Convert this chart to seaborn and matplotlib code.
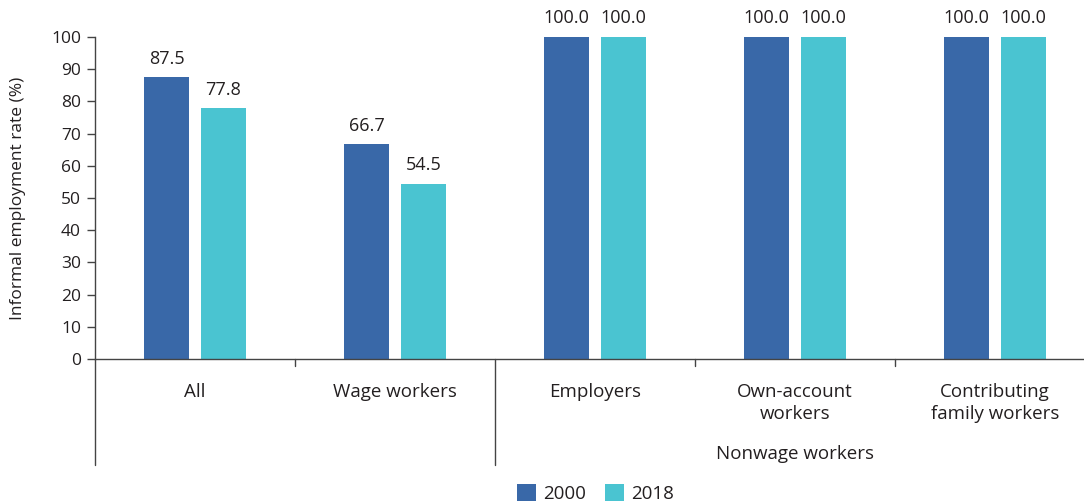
import matplotlib
matplotlib.use('Agg')
import pandas as pd
import matplotlib.pyplot as plt
import seaborn as sns

categories = ["All", "Wage workers", "Employers", "Own-account\nworkers", "Contributing\nfamily workers"]
years = ["2000", "2018"]
rate_2000 = [87.5, 66.7, 100.0, 100.0, 100.0]
rate_2018 = [77.8, 54.5, 100.0, 100.0, 100.0]
group_label = "Nonwage workers"
colors = ["#3968a8", "#4ac4d1"]

df = pd.DataFrame({
    "category": categories * 2,
    "year": [years[0]] * 5 + [years[1]] * 5,
    "rate": rate_2000 + rate_2018,
})

sns.set_style("white")
plt.rcParams['font.family'] = ['Open Sans', 'DejaVu Sans']
txt = "#231f20"

fig = plt.figure(figsize=(10.84, 5.01), dpi=100)
ax = fig.add_axes([95 / 1084, 142 / 501, 989 / 1084, 322 / 501])
sns.barplot(data=df, x="category", y="rate", hue="year", palette=colors,
            width=0.57, gap=0.21, saturation=1, linewidth=0, edgecolor="none",
            ax=ax, legend=True)

for cont in ax.containers:
    ax.bar_label(cont, fmt="%.1f", padding=7, fontsize=13, color=txt)

ax.set_ylim(0, 100)
ax.set_xlim(-0.5, 4.445)
ax.set_yticks(range(0, 101, 10))
ax.set_ylabel("Informal employment rate (%)", fontsize=12.5, color=txt, labelpad=18)
ax.set_xlabel("")
ax.tick_params(axis="y", length=6, width=1, color="#444", labelsize=12.5, labelcolor=txt, pad=4, left=True)
ax.tick_params(axis="x", length=0, labelsize=13.5, labelcolor=txt, pad=17)
for t in ax.get_xticklabels():
    t.set_linespacing(1.3)
sns.despine(ax=ax)
for s in ["left", "bottom"]:
    ax.spines[s].set_color("#444")
    ax.spines[s].set_linewidth(1)

# group separators below the axis
trans = ax.get_xaxis_transform()
for xb in [0.5, 2.5, 3.5]:
    ax.plot([xb, xb], [0, -0.022], transform=trans, color="#444", lw=1, clip_on=False)
for xb in [-0.5, 1.5]:
    ax.plot([xb, xb], [0, -0.33], transform=trans, color="#444", lw=1, clip_on=False)
ax.text(3, -0.295, group_label, transform=trans, ha="center", va="center", fontsize=13.5, color=txt)

leg = ax.legend(loc="upper center", bbox_to_anchor=(0.506, -0.365), ncol=2, frameon=False,
                fontsize=13.5, handlelength=1.0, handleheight=1.0, handletextpad=0.4,
                columnspacing=1.0, borderaxespad=0)
for t in leg.get_texts():
    t.set_color(txt)

fig.savefig("out.png", dpi=100)
